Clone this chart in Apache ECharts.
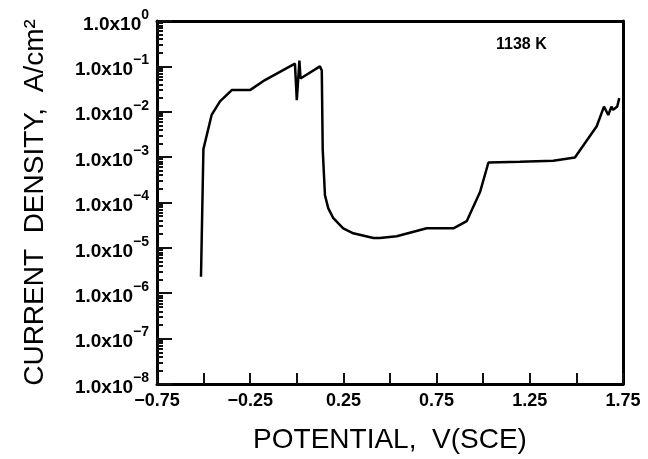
<!DOCTYPE html>
<html>
<head>
<meta charset="utf-8">
<script src="https://cdn.jsdelivr.net/npm/echarts@6/dist/echarts.min.js"></script>
<style>
  html, body { margin: 0; padding: 0; background: #fff; }
  #main { width: 648px; height: 459px; }
</style>
</head>
<body>
<div id="main"></div>
<script>
var dom = document.getElementById('main');
var chart = echarts.init(dom);

// potential, V(SCE)
var potential = [-0.514, -0.501, -0.457, -0.412, -0.349, -0.251, -0.171, -0.010, 0.000, 0.014,
    0.020, 0.124, 0.134, 0.139, 0.151, 0.169, 0.196, 0.249, 0.303, 0.411,
    0.446, 0.536, 0.697, 0.840, 0.912, 0.983, 1.028, 1.197, 1.376, 1.492,
    1.609, 1.648, 1.671, 1.688, 1.697, 1.719, 1.730];
// current density, A/cm2
var density = [2.3e-6, 1.5e-3, 8.5e-3, 1.7e-2, 3.0e-2, 3.0e-2, 5.0e-2, 1.15e-1, 1.8e-2, 1.35e-1,
    5.4e-2, 1.0e-1, 8.1e-2, 1.5e-3, 1.45e-4, 7.4e-5, 4.5e-5, 2.7e-5, 2.1e-5, 1.65e-5,
    1.65e-5, 1.8e-5, 2.7e-5, 2.7e-5, 3.9e-5, 1.7e-4, 7.6e-4, 7.9e-4, 8.3e-4, 9.8e-4,
    4.8e-3, 1.3e-2, 8.5e-3, 1.3e-2, 1.1e-2, 1.3e-2, 2.0e-2];

// minor ticks 2..9 in each decade
var minorTicks = [];
for (var d = -8; d < 0; d++) {
    for (var k = 2; k <= 9; k++) {
        minorTicks.push(k * Math.pow(10, d));
    }
}

var data = potential.map(function (p, i) { return [p, density[i]]; });

function frameLine() {
    return { show: true, onZero: false, lineStyle: { color: '#000', width: 3 } };
}

chart.setOption({
    animation: false,
    title: {
        text: '1138 K',
        left: 491,
        top: 32,
        textStyle: { fontSize: 16, fontWeight: 'bold', color: '#000' }
    },
    grid: { left: 157, right: 25, top: 21, bottom: 71 },
    xAxis: [{
        type: 'value',
        min: -0.75,
        max: 1.75,
        interval: 0.25,
        name: 'POTENTIAL,  V(SCE)',
        nameLocation: 'middle',
        nameGap: 42,
        nameTextStyle: { fontSize: 28, color: '#000' },
        axisLine: frameLine(),
        axisTick: { show: true, inside: true, length: 11, lineStyle: { color: '#111', width: 2 } },
        splitLine: { show: false },
        axisLabel: {
            fontSize: 18,
            fontWeight: 'bold',
            color: '#000',
            formatter: function (v) {
                // label every other tick: -0.75, -0.25, 0.25 ...
                var n = Math.round((v + 0.75) / 0.25);
                return n % 2 === 0 ? v.toFixed(2).replace('-', '\u2212') : ' ';
            }
        }
    }, {
        // top frame line
        type: 'value', min: -0.75, max: 1.75, position: 'top',
        axisLine: frameLine(), axisTick: { show: false }, axisLabel: { show: false }, splitLine: { show: false }
    }],
    yAxis: [{
        type: 'log',
        min: 1e-8,
        max: 1,
        interval: 1,
        position: 'left',
        name: 'CURRENT  DENSITY,  A/cm\u00b2',
        nameLocation: 'middle',
        nameGap: 108,
        nameTextStyle: { fontSize: 28, color: '#000' },
        axisLine: frameLine(),
        axisTick: { show: true, inside: true, length: 15, lineStyle: { color: '#111', width: 2 } },
        splitLine: { show: false },
        axisLabel: {
            formatter: function (v) {
                var e = Math.round(Math.log10(v));
                return '{b|1.0x10}{e|' + String(e).replace('-', '\u2212') + '}';
            },
            rich: {
                b: { fontSize: 19, fontWeight: 'bold', lineHeight: 26, verticalAlign: 'bottom', color: '#000' },
                e: { fontSize: 14, fontWeight: 'bold', lineHeight: 14, verticalAlign: 'top', color: '#000' }
            }
        }
    }, {
        // minor ticks
        type: 'log',
        min: 1e-8,
        max: 1,
        position: 'left',
        axisLine: { show: false, onZero: false },
        axisLabel: { show: false },
        splitLine: { show: false },
        axisTick: {
            show: true, inside: true, length: 6, lineStyle: { color: '#111', width: 2 },
            customValues: minorTicks
        }
    }, {
        // right frame line
        type: 'log', min: 1e-8, max: 1, position: 'right',
        axisLine: frameLine(), axisTick: { show: false }, axisLabel: { show: false }, splitLine: { show: false }
    }],
    series: [{
        type: 'line',
        data: data,
        xAxisIndex: 0,
        yAxisIndex: 0,
        symbol: 'none',
        lineStyle: { color: '#000', width: 2.5 }
    }]
});
</script>
</body>
</html>
